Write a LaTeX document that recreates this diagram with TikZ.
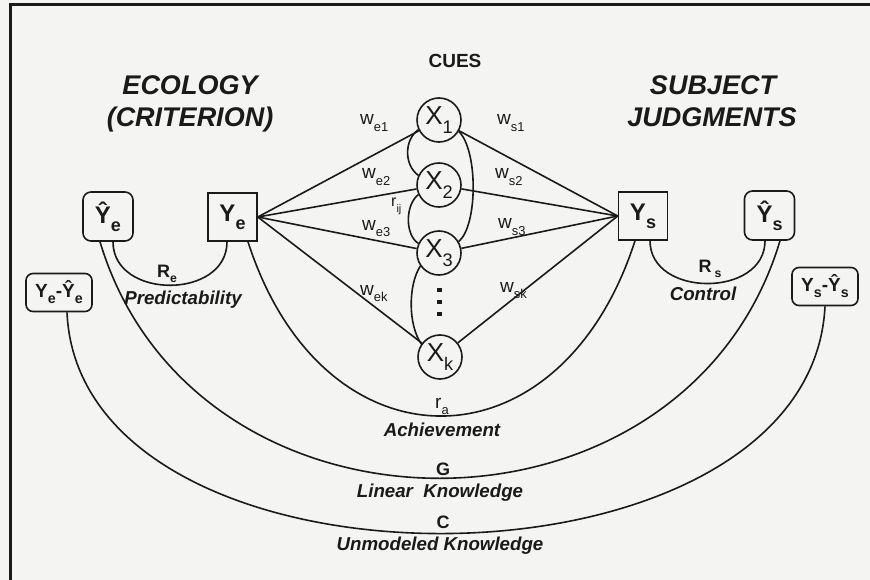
\documentclass[tikz,border=0pt]{standalone}
\usepackage{fontspec}
\setmainfont{Liberation Sans}
\usetikzlibrary{calc}
\newcommand\sbs[2][0.68]{\raisebox{-0.32em}{\scalebox{#1}{#2}}}
\newcommand\fsz[1]{\fontsize{#1}{#1}\selectfont}
\definecolor{ink}{HTML}{1A1A1A}
\definecolor{paper}{HTML}{F4F4F2}
\begin{document}
\begin{tikzpicture}[x=1pt,y=-1pt,
  inkline/.style={draw=ink, line width=1.6pt},
  cue/.style={circle, inkline, minimum size=44pt, inner sep=0pt, text=ink, font=\fsz{26}},
  sqbox/.style={rectangle, inkline, minimum width=49pt, minimum height=48pt, inner sep=0pt, text=ink, font=\fsz{24}\bfseries},
  rbox/.style={rectangle, rounded corners=8pt, inkline, minimum width=50pt, minimum height=49pt, inner sep=0pt, text=ink, font=\fsz{24}\bfseries},
  dbox/.style={rectangle, rounded corners=7pt, inkline, minimum width=66pt, minimum height=38pt, inner sep=0pt, text=ink, font=\fsz{19}\bfseries},
  wl/.style={anchor=base west, inner sep=0pt, text=ink, font=\fsz{19}},
  rl/.style={anchor=base, inner sep=0pt, text=ink, font=\fsz{18}\bfseries},
  capt/.style={anchor=base, inner sep=0pt, text=ink, font=\fsz{18.7}\bfseries\itshape},
  title/.style={anchor=base, inner sep=0pt, text=ink, font=\fsz{27}\bfseries\itshape},
]
\fill[paper] (0,0) rectangle (870,580);
\useasboundingbox (0,0) rectangle (870,580);
\draw[ink, line width=3pt] (10,580) -- (10,5) -- (870,5);

% titles
\node[anchor=base, inner sep=0pt, text=ink, font=\fsz{19}\bfseries] (cues) at (455,68) {CUES};
\node[title] (eco1) at (190,95) {ECOLOGY};
\node[title] (eco2) at (190,127) {(CRITERION)};
\node[title] (sub1) at (713,95) {SUBJECT};
\node[title] (sub2) at (712,127) {JUDGMENTS};

% cues
\node[cue] (X1) at (439,120) {X\sbs[0.7]{1}};
\node[cue] (X2) at (439,185) {X\sbs[0.7]{2}};
\node[cue] (X3) at (439,253) {X\sbs[0.7]{3}};
\node[cue] (Xk) at (440,357) {X\sbs[0.7]{k}};

% boxes
\node[sqbox] (Ye) at (232.5,217) {Y\sbs[0.75]{e}};
\node[sqbox] (Ys) at (643,216) {Y\sbs[0.75]{s}};
\node[rbox] (Yhe) at (108,216.5) {Ŷ\sbs[0.75]{e}};
\node[rbox] (Yhs) at (769.5,215.5) {Ŷ\sbs[0.75]{s}};
\node[dbox] (Dfe) at (59,292.5) {Y\sbs[0.75]{e}-Ŷ\sbs[0.75]{e}};
\node[dbox] (Dfs) at (825,286.5) {Y\sbs[0.75]{s}-Ŷ\sbs[0.75]{s}};

% cue lines
\foreach \n in {X1,X2,X3,Xk} {
  \draw[inkline] (Ye.east) -- (\n);
  \draw[inkline] (\n) -- (Ys.west);
}

% intercorrelations
\draw[inkline] (X1.205) .. controls (404,140) and (404,165) .. (X2.155);
\draw[inkline] (X1.330) .. controls (478,150) and (478,225) .. (X3.30);
\draw[inkline] (X2.205) .. controls (405,205) and (405,235) .. (X3.155);
\draw[inkline] (X3.215) .. controls (408,285) and (408,325) .. (Xk.145);
\foreach \yy in {290,302,314} \fill[ink] (436.5,{\yy-2}) rectangle +(5,4);

% weights
\node[wl] (we1) at (360,125) {w\sbs{e1}};
\node[wl] (we2) at (362,179) {w\sbs{e2}};
\node[wl] (we3) at (362,230) {w\sbs{e3}};
\node[wl] (wek) at (360,295) {w\sbs{ek}};
\node[wl] (ws1) at (497,125) {w\sbs{s1}};
\node[wl] (ws2) at (495,179) {w\sbs{s2}};
\node[wl] (ws3) at (498,229) {w\sbs{s3}};
\node[wl] (wsk) at (500,292) {w\sbs{sk}};
\node[wl, font=\fsz{16}] (rij) at (391,207) {r\sbs{ij}};

% arcs
\draw[inkline] ([xshift=5pt]Yhe.south) .. controls +(0,58) and +(0,58) .. ([xshift=-5.5pt]Ye.south);
\draw[inkline] ([xshift=7pt]Ys.south) .. controls +(0,57) and +(0,57) .. ([xshift=-4.5pt]Yhs.south);
\draw[inkline] ([xshift=15.5pt]Ye.south) .. controls +(75,233) and +(-75,233) .. ([xshift=-8pt]Ys.south);
\draw[inkline] ([xshift=-8pt]Yhe.south) .. controls +(95,316) and +(-95,316) .. ([xshift=10.5pt]Yhs.south);
\draw[inkline] ([xshift=8pt]Dfe.south) .. controls +(13,298) and +(-15,300) .. (Dfs.south);

% arc labels
\node[rl] (Re) at (167,277) {R\sbs{e}};
\node[capt] (pred) at (183,304) {Predictability};
\node[rl] (Rs) at (710,272) {R\,\sbs{s}};
\node[capt] (ctrl) at (703,300) {Control};
\node[rl, font=\fsz{19}] (ra) at (442,408) {r\sbs{a}};
\node[capt] (ach) at (442,436) {Achievement};
\node[rl] (G) at (443,475) {G};
\node[capt] (lin) at (440,497) {Linear~~Knowledge};
\node[rl] (C) at (443,528) {C};
\node[capt] (unm) at (440,550) {Unmodeled Knowledge};
\end{tikzpicture}
\end{document}
